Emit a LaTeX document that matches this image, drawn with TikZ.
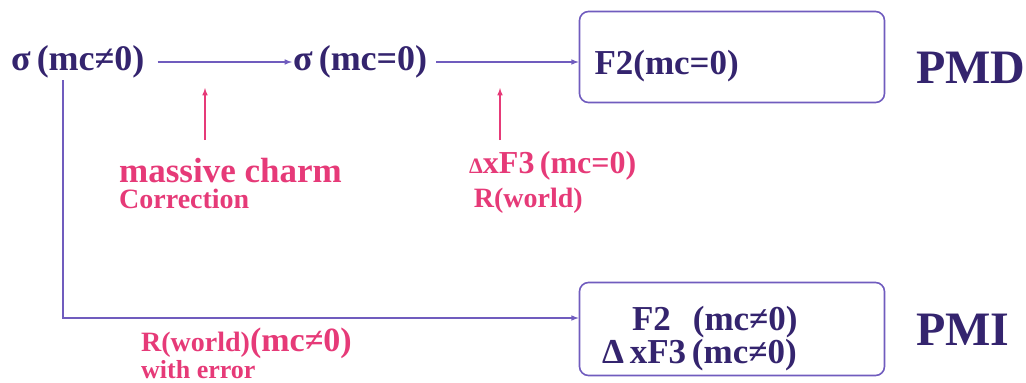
\documentclass[tikz,border=0pt]{standalone}
\usepackage{fontspec}
\setmainfont{Liberation Serif}
\usetikzlibrary{arrows,positioning}
\definecolor{inkblue}{RGB}{52,36,110}
\definecolor{linepurple}{RGB}{112,92,190}
\definecolor{charmpink}{RGB}{230,58,120}
\tikzstyle{lbl}=[text=inkblue,font=\fontsize{36}{40}\selectfont\bfseries,inner sep=1pt]
\tikzstyle{tag}=[text=inkblue,font=\fontsize{48}{52}\selectfont\bfseries,inner sep=1pt]
\tikzstyle{res}=[rectangle,draw=linepurple,line width=1.6pt,rounded corners=9pt,minimum width=305pt,text=inkblue,font=\fontsize{35}{29}\selectfont\bfseries]
\tikzstyle{note}=[text=charmpink,font=\bfseries,inner sep=1pt,align=left]
\tikzstyle{arr}=[-latex,line width=1.5pt,draw=linepurple]
\tikzstyle{parr}=[-latex,line width=1.5pt,draw=charmpink]

\begin{document}
\begin{tikzpicture}[x=1pt,y=-1pt]
\useasboundingbox (0,0) rectangle (1026,383);
\node (sig1) [lbl, anchor=west] at (10,62) {σ\,(mc≠0)};
\node (sig2) [lbl, anchor=west] at (292,62) {σ\,(mc=0)};
\node (pmd) [res, minimum height=91pt, text width=275pt, align=left] at (732,57) {\rule{0pt}{43pt}F2(mc=0)};
\node (pmi) [res, minimum height=93pt, text width=280pt, align=left] at (732,329) {\rule{0pt}{43pt}\hspace*{40pt}F2\hspace{22pt}(mc≠0)\\\hspace*{10pt}Δ\,xF3\,(mc≠0)};
\node (pmdtag) [tag, anchor=west] at (915,68) {PMD};
\node (pmitag) [tag, anchor=west] at (915,330) {PMI};
% corrections
\node (charm) [note, anchor=north west] at (118,157) {\fontsize{35}{30}\selectfont massive charm\\[5pt]\fontsize{28}{30}\selectfont Correction};
\node (xf3) [note, anchor=north west] at (468,150) {\fontsize{22}{24}\selectfont Δ\fontsize{32}{34}\selectfont xF3\,(mc=0)\\[7pt]\fontsize{28}{30}\selectfont\,R(world)};
\node (werr) [note, anchor=north west] at (140,327) {\fontsize{28}{26}\selectfont R(world)\fontsize{34}{26}\selectfont(mc≠0)\\\fontsize{26}{26}\selectfont with error};
\coordinate (c1) at (205,140);
\coordinate (c2) at (500,140);
\coordinate (down) at (63,80);
\draw [arr] ([xshift=12pt]sig1.east) -- (sig2.west);
\draw [arr] ([xshift=8pt]sig2.east) -- (pmd.west |- sig2.west);
\draw [parr] (c1) -- (c1 |- 0,88);
\draw [parr] (c2) -- (c2 |- 0,88);
\draw [arr] (down) |- ([yshift=11pt]pmi.west);
\end{tikzpicture}
\end{document}
